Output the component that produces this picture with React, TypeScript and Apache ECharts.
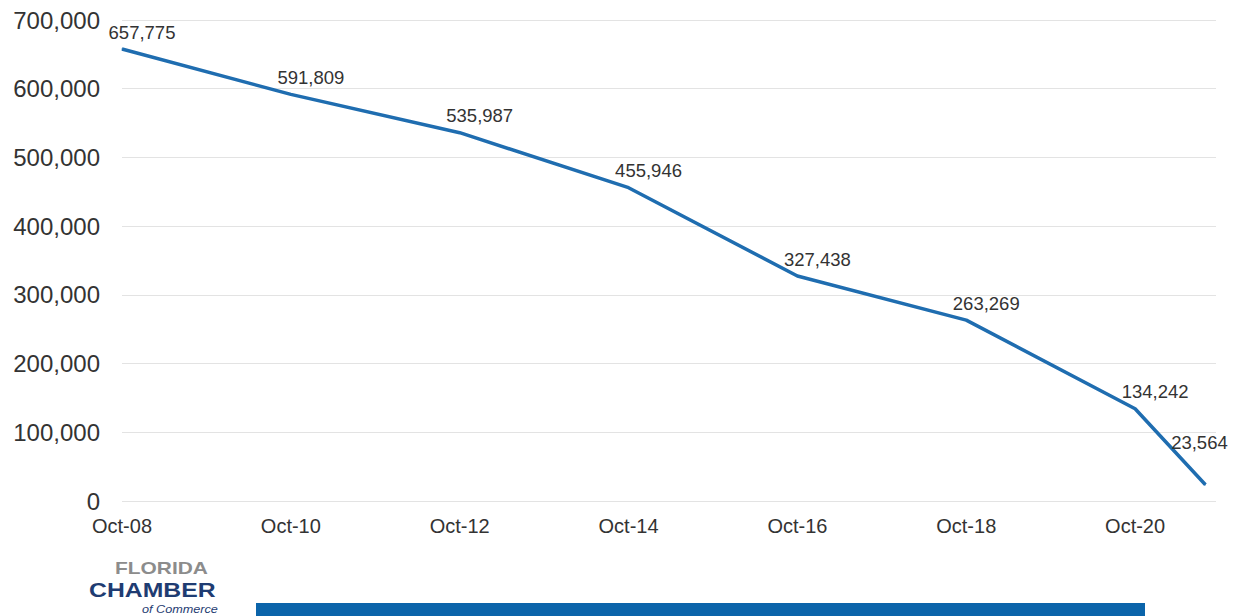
import React, { useEffect, useRef } from "react";
import * as echarts from "echarts";

// Months elapsed since Oct 2008 for each observation
const monthsSinceStart = [0, 24, 48, 72, 96, 120, 144, 154];
const values = [657775, 591809, 535987, 455946, 327438, 263269, 134242, 23564];
const xTickLabels = ["Oct-08", "Oct-10", "Oct-12", "Oct-14", "Oct-16", "Oct-18", "Oct-20"];
const yTicks = [0, 100000, 200000, 300000, 400000, 500000, 600000, 700000];

const fmt = (v: number) => String(Math.round(v)).replace(/\B(?=(\d{3})+(?!\d))/g, ",");

export default function App() {
  const ref = useRef<HTMLDivElement>(null);
  useEffect(() => {
    if (!ref.current) return;
    const chart = echarts.init(ref.current, undefined, { renderer: "svg" });
    const font = "Liberation Sans, Arial, sans-serif";
    const data = monthsSinceStart.map((m, i) => {
      const item: any = { value: [m, values[i]] };
      if (i === values.length - 1) {
        item.label = { offset: [-6, -27] };
      }
      return item;
    });
    chart.setOption({
      animation: false,
      backgroundColor: "#ffffff",
      grid: { left: 122, right: 21, top: 20, bottom: 115, containLabel: false },
      xAxis: {
        type: "value",
        min: 0,
        max: 155.5,
        interval: 24,
        splitLine: { show: false },
        axisTick: { show: false },
        axisLine: { show: false },
        axisLabel: {
          showMaxLabel: false,
          margin: 15,
          color: "#333333",
          fontSize: 20,
          fontFamily: font,
          formatter: (v: number) => {
            const idx = Math.round(v / 24);
            if (Math.abs(v - idx * 24) > 0.01) return "";
            return xTickLabels[idx] ?? "";
          },
        },
      },
      yAxis: {
        type: "value",
        min: yTicks[0],
        max: yTicks[yTicks.length - 1],
        interval: 100000,
        axisLine: { show: false },
        axisTick: { show: false },
        splitLine: { lineStyle: { color: "#e3e3e3", width: 1 } },
        axisLabel: {
          margin: 22,
          color: "#333333",
          fontSize: 24,
          fontFamily: font,
          formatter: (v: number) => fmt(v),
        },
      },
      series: [
        {
          type: "line",
          data,
          showSymbol: true,
          symbol: "circle",
          symbolSize: 1,
          itemStyle: { color: "#1f6db0" },
          lineStyle: { color: "#1f6db0", width: 3.5 },
          label: {
            show: true,
            position: "top",
            offset: [20, -2],
            color: "#333333",
            fontSize: 18.5,
            fontFamily: font,
            formatter: (p: any) => fmt(p.value[1]),
          },
        },
      ],
      graphic: [
        {
          type: "text",
          x: 115,
          y: 568,
          scaleX: 1.23,
          style: {
            x: 0,
            y: 0,
            text: "FLORIDA",
            fill: "#8c8c8c",
            font: "bold 17px Liberation Sans, Arial, sans-serif",
            verticalAlign: "middle",
          },
        },
        {
          type: "text",
          x: 89,
          y: 590,
          scaleX: 1.18,
          style: {
            x: 0,
            y: 0,
            text: "CHAMBER",
            fill: "#1f3c72",
            font: "900 21px Liberation Sans, Arial, sans-serif",
            verticalAlign: "middle",
          },
        },
        {
          type: "text",
          x: 142,
          y: 609,
          scaleX: 1.15,
          style: {
            x: 0,
            y: 0,
            text: "of Commerce",
            fill: "#1f3c72",
            font: "italic 11px Liberation Sans, Arial, sans-serif",
            verticalAlign: "middle",
          },
        },
        {
          type: "rect",
          shape: { x: 256, y: 603, width: 889, height: 20 },
          style: { fill: "#0b64aa" },
        },
      ],
    });
    return () => chart.dispose();
  }, []);
  return (
    <div
      ref={ref}
      style={{ position: "fixed", left: 0, top: 0, width: 1237, height: 616, background: "#fff" }}
    />
  );
}
